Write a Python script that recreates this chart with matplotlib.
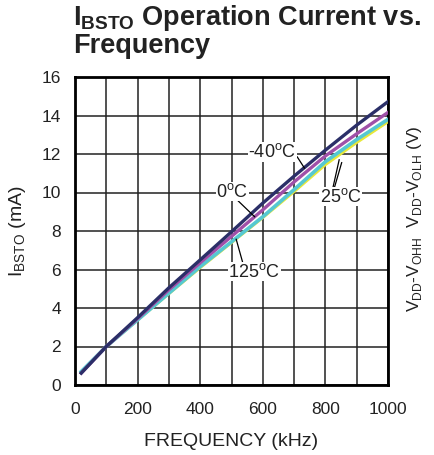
import matplotlib
matplotlib.use("Agg")
import matplotlib.pyplot as plt

plt.rcParams['font.family'] = ['Liberation Sans', 'DejaVu Sans']
plt.rcParams['mathtext.fontset'] = 'custom'
plt.rcParams['mathtext.rm'] = 'Liberation Sans'
plt.rcParams['mathtext.bf'] = 'Liberation Sans:bold'

# frequency in kHz, current in mA
freq = [20, 100, 200, 300, 400, 500, 600, 700, 800, 900, 1000]
i_m40 = [0.62, 2.0, 3.5, 5.05, 6.5, 7.96, 9.45, 10.85, 12.2, 13.5, 14.72]
i_0 = [0.62, 2.0, 3.45, 4.95, 6.35, 7.72, 9.1, 10.55, 11.9, 13.05, 14.16]
i_25 = [0.68, 2.0, 3.38, 4.75, 6.1, 7.4, 8.7, 10.05, 11.45, 12.6, 13.68]
i_125 = [0.7, 2.0, 3.38, 4.77, 6.15, 7.44, 8.74, 10.15, 11.6, 12.75, 13.8]

fig = plt.figure(figsize=(4.34, 4.55), dpi=100)
ax = fig.add_axes([75 / 434, 70 / 455, 313 / 434, 308 / 455])

ax.plot(freq, i_25, color='#e8e83a', lw=2.2, zorder=3)
ax.plot(freq, i_125, color='#55c8d2', lw=2.6, zorder=4)
ax.plot(freq, i_0, color='#a050a8', lw=2.4, zorder=5)
ax.plot(freq, i_m40, color='#2b2f68', lw=2.4, zorder=6)

ax.set_xlim(0, 1000)
ax.set_ylim(0, 16)
ax.set_xticks(range(0, 1001, 100))
ax.set_xticklabels(['0', '', '200', '', '400', '', '600', '', '800', '', '1000'])
ax.set_yticks(range(0, 17, 2))
ax.grid(True, color='#222222', lw=1.1)
ax.tick_params(length=0, labelsize=12.5, labelcolor='#222222')
ax.tick_params(axis='x', pad=12)
ax.tick_params(axis='y', pad=10)
for s in ax.spines.values():
    s.set_linewidth(2)

ax.set_xlabel('FREQUENCY (kHz)', fontsize=14, labelpad=12, color='#222222')
ax.set_ylabel('I$_\\mathrm{BSTO}$ (mA)', fontsize=14, color='#222222')
ax.yaxis.set_label_coords(-0.15, 0.5)

ax2 = ax.twinx()
ax2.set_yticks([])
ax2.set_ylabel('V$_\\mathrm{DD}$-V$_\\mathrm{OHH}$  V$_\\mathrm{DD}$-V$_\\mathrm{OLH}$ (V)',
               fontsize=12.5, color='#222222')
ax2.yaxis.set_label_coords(1.054, 0.54)

fig.text(73 / 434, 1 - 3 / 455,
         '$\\mathbf{I_{BSTO}}$ Operation Current vs.\nFrequency',
         fontsize=19.5, fontweight='bold', va='top', ha='left', linespacing=0.98,
         color='#222222')

box = dict(facecolor='white', edgecolor='none', pad=0.5)
labels = [('-40$^\\mathrm{o}$C', 630, 12.1, [(710, 11.85, 733, 11.27)]),
          ('0$^\\mathrm{o}$C', 503, 10.04, [(519, 9.6, 574, 8.74)]),
          ('25$^\\mathrm{o}$C', 849, 9.78, [(822, 10.1, 844, 11.7), (826, 10.1, 852, 11.55)]),
          ('125$^\\mathrm{o}$C', 573, 5.89, [(536, 6.35, 515, 7.57)])]
for txt, lx, ly, leaders in labels:
    ax.text(lx, ly, txt, fontsize=13, ha='center', va='center', bbox=box, zorder=8,
            color='#222222')
    for x0, y0, x1, y1 in leaders:
        ax.plot([x0, x1], [y0, y1], color='black', lw=0.9, zorder=7)

fig.savefig('out.png', dpi=100)
